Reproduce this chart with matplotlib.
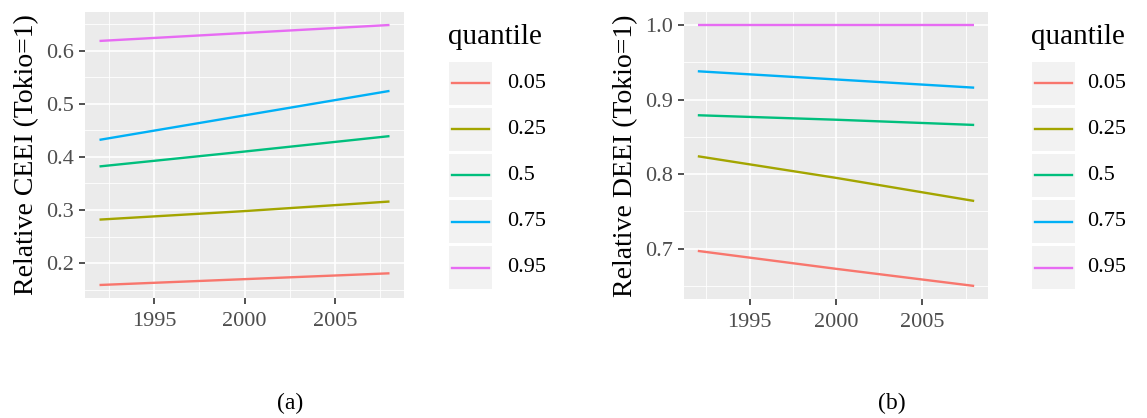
import matplotlib
matplotlib.use("Agg")
import matplotlib.pyplot as plt
from matplotlib.patches import Rectangle
from matplotlib.ticker import MultipleLocator
import numpy as np

plt.rcParams['font.family'] = ['Liberation Serif', 'DejaVu Serif']

years = [1992, 2000, 2008]
quantiles = ['0.05', '0.25', '0.5', '0.75', '0.95']
colors = ['#F8766D', '#A3A500', '#00BF7D', '#00B0F6', '#E76BF3']

# relative CEEI (panel a), one row per quantile
ceei = [
    [0.159, 0.170, 0.181],
    [0.282, 0.298, 0.316],
    [0.382, 0.410, 0.439],
    [0.432, 0.478, 0.524],
    [0.618, 0.633, 0.648],
]
# relative DEEI (panel b)
deei = [
    [0.697, 0.673, 0.650],
    [0.824, 0.795, 0.764],
    [0.879, 0.873, 0.866],
    [0.938, 0.927, 0.916],
    [1.000, 1.000, 1.000],
]

W, H = 1147, 418
fig = plt.figure(figsize=(W / 100, H / 100), dpi=100)


def px_axes(x0, x1, y0, y1):
    # pixel box (top-left origin) -> figure axes
    return fig.add_axes([x0 / W, 1 - y1 / H, (x1 - x0) / W, (y1 - y0) / H])


def gg_panel(ax, data, ylabel, ymajor):
    ax.set_facecolor('#EBEBEB')
    for vals, c in zip(data, colors):
        ax.plot(years, vals, color=c, lw=1.7, solid_capstyle='butt')
    ax.set_xlim(1991.2, 2008.8)
    lo = min(min(v) for v in data)
    hi = max(max(v) for v in data)
    pad = (hi - lo) * 0.05
    ax.set_ylim(lo - pad, hi + pad)
    ax.xaxis.set_major_locator(MultipleLocator(5))
    ax.xaxis.set_minor_locator(MultipleLocator(2.5))
    ax.yaxis.set_major_locator(MultipleLocator(ymajor))
    ax.yaxis.set_minor_locator(MultipleLocator(ymajor / 2))
    ax.grid(which='major', color='white', lw=1.2)
    ax.grid(which='minor', color='white', lw=0.6)
    ax.set_axisbelow(True)
    for s in ax.spines.values():
        s.set_visible(False)
    ax.tick_params(which='major', length=4.5, width=1.2, color='#333333',
                   labelcolor='#4D4D4D', labelsize=16, pad=3.5)
    ax.tick_params(axis='x', which='major', pad=5.5)
    ax.tick_params(which='minor', length=0)
    ax.set_ylabel(ylabel, fontsize=20, labelpad=5)


def gg_legend(x0, xlab):
    lax = px_axes(x0 - 5, x0 + 120, 15, 295)
    lax.set_xlim(x0 - 5, x0 + 120)
    lax.set_ylim(295, 15)
    lax.axis('off')
    lax.text(x0 - 1, 37, 'quantile', fontsize=21, va='center', ha='left')
    for i, (q, c) in enumerate(zip(quantiles, colors)):
        top = 62 + 46 * i
        lax.add_patch(Rectangle((x0, top), 43, 43, color='#F2F2F2', lw=0))
        lax.plot([x0 + 3, x0 + 40], [top + 21.5] * 2, color=c, lw=1.7)
        lax.text(xlab, top + 21.5, q, fontsize=16, va='center', ha='left')


ax_a = px_axes(85, 404, 12, 298)
gg_panel(ax_a, ceei, 'Relative CEEI (Tokio=1)', 0.1)
gg_legend(449, 507)

ax_b = px_axes(684, 988, 12, 299)
gg_panel(ax_b, deei, 'Relative DEEI (Tokio=1)', 0.1)
gg_legend(1032, 1087)

fig.text(290 / W, 1 - 403 / H, '(a)', fontsize=17, ha='center', va='center')
fig.text(892 / W, 1 - 403 / H, '(b)', fontsize=17, ha='center', va='center')

fig.savefig('out.png', dpi=100)
